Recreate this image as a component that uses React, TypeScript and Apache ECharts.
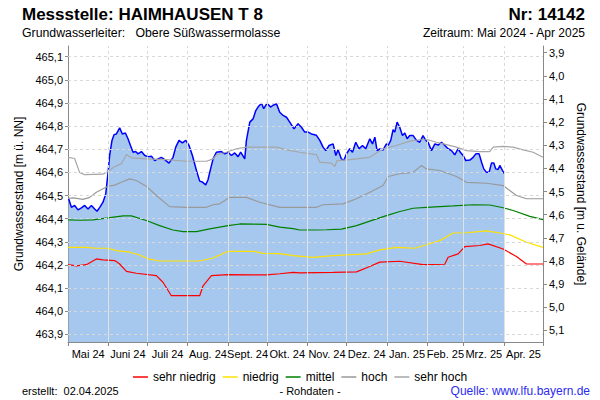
import React, { useEffect, useRef } from "react";
import * as echarts from "echarts";

// ---- axes / categories ----
const monthBounds = [0, 31, 61, 92, 123, 153, 184, 214, 245, 276, 304, 335, 365];
const monthLabels = ["Mai 24", "Juni 24", "Juli 24", "Aug. 24", "Sept. 24", "Okt. 24", "Nov. 24", "Dez. 24", "Jan. 25", "Feb. 25", "Mrz. 25", "Apr. 25"];
const levelTicks = [463.9, 464.0, 464.1, 464.2, 464.3, 464.4, 464.5, 464.6, 464.7, 464.8, 464.9, 465.0, 465.1];
const depthTicks = [3.9, 4.0, 4.1, 4.2, 4.3, 4.4, 4.5, 4.6, 4.7, 4.8, 4.9, 5.0, 5.1];
const groundLevel = 469.017;
const levelMin = 463.867;
const levelMax = 465.146;

// ---- measured values (day offset from 01.05.2024, m ü. NN) ----
const messDays = [0.5, 2.6, 5.1, 7.7, 10.3, 12.8, 15.4, 18, 20.5, 22.3, 24.4, 26.9, 29, 30.8, 32, 33.8, 35.4, 37.2, 39.7, 41.8, 44.1, 46.1, 48, 50, 52, 53.8, 56.4, 59, 61.5, 64.1, 66.6, 69.2, 71.8, 74.3, 77.6, 80.7, 82.8, 85.3, 87.9, 90.5, 93, 95.6, 98.7, 101.2, 103.3, 105.8, 107.6, 108.9, 111.5, 114, 117.9, 120.4, 123, 125.6, 128.1, 130.7, 132.7, 135.8, 137.1, 139.7, 142.2, 144.3, 146, 148.7, 150.4, 153, 155.6, 157.6, 160.2, 162.7, 165.3, 167.9, 170.4, 173.7, 176.8, 179.4, 181.9, 184.5, 187.1, 190.9, 193.5, 196, 198.1, 200.6, 203.7, 205.8, 207.5, 210.1, 212.1, 214, 216.5, 218.6, 221.1, 223.7, 226.3, 228.8, 231.9, 234, 235.8, 237.5, 239.6, 242.1, 244.7, 246, 248, 249.8, 251.1, 252.9, 254.9, 257, 258.8, 260.6, 262.6, 265.2, 267.8, 270.3, 272.8, 274.9, 276.7, 279.3, 281.9, 284.4, 287, 289.6, 292.1, 294.7, 297.2, 299.7, 301.5, 303.6, 305.7, 308.8, 311.3, 313.4, 315.9, 317.8, 319.5, 321.6, 323.6, 325.4, 327.2, 328.7, 330.5, 331.8, 333.9, 335.1];
const messValues = [464.486, 464.449, 464.457, 464.438, 464.447, 464.457, 464.442, 464.457, 464.442, 464.432, 464.449, 464.471, 464.507, 464.6, 464.673, 464.738, 464.763, 464.766, 464.792, 464.766, 464.77, 464.745, 464.716, 464.687, 464.69, 464.68, 464.69, 464.673, 464.668, 464.67, 464.651, 464.658, 464.665, 464.655, 464.64, 464.665, 464.709, 464.738, 464.727, 464.738, 464.716, 464.673, 464.608, 464.562, 464.558, 464.546, 464.568, 464.6, 464.658, 464.687, 464.69, 464.68, 464.687, 464.673, 464.684, 464.668, 464.687, 464.658, 464.738, 464.817, 464.831, 464.867, 464.882, 464.899, 464.875, 464.899, 464.882, 464.89, 464.896, 464.86, 464.846, 464.838, 464.817, 464.788, 464.81, 464.795, 464.774, 464.774, 464.766, 464.76, 464.738, 464.709, 464.694, 464.716, 464.723, 464.673, 464.698, 464.658, 464.653, 464.68, 464.702, 464.687, 464.73, 464.702, 464.716, 464.702, 464.745, 464.723, 464.752, 464.694, 464.701, 464.697, 464.723, 464.716, 464.738, 464.784, 464.774, 464.817, 464.795, 464.759, 464.77, 464.745, 464.759, 464.759, 464.738, 464.73, 464.759, 464.738, 464.73, 464.694, 464.723, 464.718, 464.73, 464.716, 464.702, 464.694, 464.676, 464.702, 464.687, 464.673, 464.651, 464.653, 464.665, 464.68, 464.68, 464.644, 464.615, 464.6, 464.6, 464.64, 464.64, 464.615, 464.612, 464.63, 464.608, 464.596];

// ---- statistics ----
const sehrHochDays = [0, 5.1, 8.9, 12.8, 26.9, 30.8, 35.9, 41, 44.9, 48.7, 60.2, 75.6, 91, 106.4, 111.5, 114, 121.7, 129.4, 137.1, 160.2, 167.9, 178.1, 190.9, 193.5, 202.5, 205, 206.8, 216.5, 231.9, 242.1, 252.4, 262.6, 270.3, 276.7, 283.1, 290.8, 298.5, 306.2, 316.4, 324.1, 326.7, 334.4, 342, 349.7, 357.4, 365];
const sehrHochValues = [464.665, 464.66, 464.6, 464.59, 464.592, 464.605, 464.625, 464.637, 464.677, 464.663, 464.658, 464.655, 464.648, 464.648, 464.658, 464.676, 464.687, 464.702, 464.709, 464.709, 464.697, 464.687, 464.677, 464.644, 464.64, 464.625, 464.651, 464.655, 464.665, 464.702, 464.716, 464.735, 464.741, 464.741, 464.73, 464.72, 464.709, 464.694, 464.69, 464.69, 464.709, 464.712, 464.709, 464.697, 464.687, 464.665];

const hochDays = [0, 4.3, 11.5, 16.7, 21.8, 26.9, 30.8, 35.9, 41, 47.4, 52.5, 60.2, 67.9, 78.1, 91, 106.4, 111.5, 116.6, 124.3, 137.1, 147.4, 162.7, 175.5, 190.9, 196, 211.4, 221.7, 231.9, 242.1, 246, 254.9, 265.2, 271.6, 275.4, 285.7, 298.5, 306.2, 321.6, 334.4, 344.6, 352.3, 365];
const hochValues = [464.488, 464.49, 464.483, 464.492, 464.514, 464.529, 464.54, 464.545, 464.557, 464.572, 464.565, 464.54, 464.5, 464.452, 464.449, 464.449, 464.46, 464.464, 464.492, 464.492, 464.471, 464.449, 464.449, 464.449, 464.46, 464.464, 464.486, 464.514, 464.543, 464.582, 464.594, 464.6, 464.63, 464.615, 464.608, 464.582, 464.557, 464.553, 464.543, 464.5, 464.486, 464.486];

const mittelDays = [0, 9, 19.2, 30.8, 42.3, 48.7, 60.2, 70.4, 80.7, 88.4, 98.7, 108.9, 123, 132, 142.2, 152.5, 162.7, 173, 178, 191, 198.7, 210.1, 221.7, 231.9, 244.7, 255, 265.2, 275.4, 296, 311.3, 324.1, 334.4, 342, 354.9, 365];
const mittelValues = [464.395, 464.393, 464.395, 464.403, 464.412, 464.412, 464.392, 464.37, 464.351, 464.344, 464.344, 464.356, 464.37, 464.377, 464.376, 464.375, 464.363, 464.357, 464.351, 464.351, 464.352, 464.355, 464.37, 464.389, 464.413, 464.431, 464.445, 464.449, 464.455, 464.46, 464.459, 464.447, 464.435, 464.41, 464.396];

const niedrigDays = [0, 14.1, 21.8, 30.8, 37.2, 47.4, 55.1, 61.5, 70.4, 101.2, 111.5, 123, 142.2, 150, 162.7, 173, 188.5, 203.7, 229.4, 239.6, 252.4, 266.5, 275.4, 285.7, 296, 306.2, 321.6, 331.8, 339.5, 352.3, 365];
const niedrigValues = [464.276, 464.276, 464.272, 464.272, 464.262, 464.255, 464.243, 464.226, 464.217, 464.217, 464.23, 464.259, 464.259, 464.25, 464.249, 464.24, 464.233, 464.24, 464.248, 464.265, 464.276, 464.272, 464.287, 464.305, 464.338, 464.339, 464.347, 464.338, 464.33, 464.298, 464.276];

const sehrNiedrigDays = [0, 6.4, 14.1, 21.8, 26.9, 35.9, 39.7, 44.9, 52.5, 67.9, 73, 79.4, 101.2, 103.8, 110.2, 123, 142.2, 152.5, 162.7, 173, 178, 203.7, 221.7, 231.9, 239.6, 255, 272.8, 289.5, 292.1, 299.8, 304.9, 316.4, 322.8, 334.4, 344.6, 352.3, 365];
const sehrNiedrigValues = [464.201, 464.196, 464.201, 464.226, 464.222, 464.219, 464.204, 464.172, 464.164, 464.154, 464.125, 464.067, 464.067, 464.11, 464.154, 464.158, 464.157, 464.157, 464.162, 464.168, 464.166, 464.168, 464.17, 464.193, 464.212, 464.216, 464.201, 464.203, 464.233, 464.248, 464.279, 464.284, 464.291, 464.269, 464.236, 464.204, 464.204];

const FONT = "'Liberation Sans', Arial, Helvetica, sans-serif";

const zip = (d: number[], v: number[]) => d.map((x, i) => [x, v[i]]);
const comma = (v: number) => v.toFixed(1).replace(".", ",");
const interp = (d: number[], v: number[], x: number) => {
  if (x <= d[0]) return v[0];
  for (let i = 1; i < d.length; i++) {
    if (x <= d[i]) {
      const t = (x - d[i - 1]) / (d[i] - d[i - 1]);
      return v[i - 1] + t * (v[i] - v[i - 1]);
    }
  }
  return v[v.length - 1];
};

export default function App() {
  const ref = useRef<HTMLDivElement>(null);
  useEffect(() => {
    if (!ref.current) return;
    const chart = echarts.init(ref.current, null, { renderer: "svg" });
    const mids = monthLabels.map((_, i) => (monthBounds[i] + monthBounds[i + 1]) / 2);
    const innerBounds = monthBounds.slice(1, -1);
    const lastDay = messDays[messDays.length - 1];
    const statLine = (name: string, color: string, d: number[], v: number[]) => ({
      name,
      type: "line",
      data: zip(d, v),
      symbol: "none",
      z: 4,
      lineStyle: { color, width: 1.2 },
      itemStyle: { color },
    });
    chart.setOption({
      animation: false,
      textStyle: { fontFamily: FONT },
      grid: { left: 68, right: 57, top: 46, bottom: 58, containLabel: false, outerBoundsMode: "none" },
      xAxis: {
        type: "value",
        min: 0,
        max: 365,
        axisLine: { show: true, lineStyle: { color: "#888" } },
        axisTick: { show: true, customValues: monthBounds, length: 4, lineStyle: { color: "#888" } },
        axisLabel: {
          customValues: mids,
          formatter: (val: number) => {
            const i = mids.findIndex((m) => Math.abs(m - val) < 0.01);
            return i >= 0 ? monthLabels[i] : "";
          },
          fontSize: 11,
          color: "#000",
          margin: 6,
          hideOverlap: false,
          fontFamily: FONT,
        },
        splitLine: { show: false },
      },
      yAxis: [
        {
          type: "value",
          min: levelMin,
          max: levelMax,
          position: "left",
          name: "Grundwasserstand [m ü. NN]",
          nameLocation: "middle",
          nameRotate: 90,
          nameGap: 41,
          nameTextStyle: { fontSize: 12, color: "#000", fontFamily: FONT },
          axisLine: { show: true, lineStyle: { color: "#888" } },
          axisTick: { show: true, customValues: levelTicks, length: 3, lineStyle: { color: "#888" } },
          axisLabel: { customValues: levelTicks, formatter: comma, fontSize: 11, color: "#000", margin: 5, fontFamily: FONT },
          splitLine: { show: false },
        },
        {
          type: "value",
          min: groundLevel - levelMax,
          max: groundLevel - levelMin,
          inverse: true,
          position: "right",
          name: "Grundwasserstand [m u. Gelände]",
          nameLocation: "middle",
          nameRotate: -90,
          nameGap: 30,
          nameTextStyle: { fontSize: 12, color: "#000", fontFamily: FONT },
          axisLine: { show: true, lineStyle: { color: "#888" } },
          axisTick: { show: true, customValues: depthTicks, length: 4, lineStyle: { color: "#888" } },
          axisLabel: { customValues: depthTicks, formatter: comma, fontSize: 11, color: "#000", margin: 6, fontFamily: FONT },
          splitLine: { show: false },
        },
      ],
      legend: {
        top: 366,
        left: "center",
        icon: "rect",
        itemWidth: 15,
        itemHeight: 1.5,
        itemGap: 7,
        textStyle: { fontSize: 12, color: "#000", fontFamily: FONT },
        data: ["sehr niedrig", "niedrig", "mittel", "hoch", "sehr hoch"],
      },
      series: [
        {
          type: "line",
          data: [[0, levelMin]],
          symbol: "none",
          lineStyle: { opacity: 0 },
          z: 1,
          silent: true,
          markLine: {
            silent: true,
            symbol: ["none", "none"],
            label: { show: false },
            lineStyle: { color: "#d8d8d8", type: [3, 3], width: 1 },
            data: [...levelTicks.map((v) => ({ yAxis: v })), ...innerBounds.map((b) => ({ xAxis: b }))],
          },
        },
        {
          name: "Messwerte",
          type: "line",
          data: zip(messDays, messValues),
          symbol: "none",
          z: 2,
          lineStyle: { color: "#0000ff", width: 1.5 },
          areaStyle: { color: "#a6c8ef", opacity: 1, origin: "start" },
          markLine: {
            silent: true,
            symbol: ["none", "none"],
            label: { show: false },
            lineStyle: { color: "#e2e2e2", type: "solid", width: 1 },
            data: innerBounds
              .filter((b) => b <= lastDay)
              .map((b) => [{ coord: [b, levelMin] }, { coord: [b, interp(messDays, messValues, b)] }]),
          },
        },
        statLine("sehr niedrig", "#ff0000", sehrNiedrigDays, sehrNiedrigValues),
        statLine("niedrig", "#ffe100", niedrigDays, niedrigValues),
        statLine("mittel", "#008000", mittelDays, mittelValues),
        statLine("hoch", "#999999", hochDays, hochValues),
        statLine("sehr hoch", "#a6a6a6", sehrHochDays, sehrHochValues),
      ],
      graphic: [
        { type: "text", x: 22, y: 14, style: { text: "Messstelle: HAIMHAUSEN T 8", font: `bold 17px ${FONT}`, fill: "#000", align: "left", verticalAlign: "middle" } },
        { type: "text", x: 585, y: 14, style: { text: "Nr: 14142", font: `bold 17px ${FONT}`, fill: "#000", align: "right", verticalAlign: "middle" } },
        { type: "text", x: 22, y: 33, style: { text: "Grundwasserleiter:   Obere Süßwassermolasse", font: `12.3px ${FONT}`, fill: "#000", align: "left", verticalAlign: "middle" } },
        { type: "text", x: 585, y: 33, style: { text: "Zeitraum: Mai 2024 - Apr 2025", font: `12px ${FONT}`, fill: "#000", align: "right", verticalAlign: "middle" } },
        { type: "text", x: 22, y: 391, style: { text: "erstellt:  02.04.2025", font: `11px ${FONT}`, fill: "#000", align: "left", verticalAlign: "middle" } },
        { type: "text", x: 310, y: 391, style: { text: "- Rohdaten -", font: `11px ${FONT}`, fill: "#000", align: "center", verticalAlign: "middle" } },
        { type: "text", x: 590, y: 391, style: { text: "Quelle: www.lfu.bayern.de", font: `12px ${FONT}`, fill: "#2b2bf0", align: "right", verticalAlign: "middle" } },
      ],
    });
    return () => chart.dispose();
  }, []);
  return <div ref={ref} style={{ position: "absolute", left: 0, top: 0, width: 600, height: 400, background: "#fff" }} />;
}
